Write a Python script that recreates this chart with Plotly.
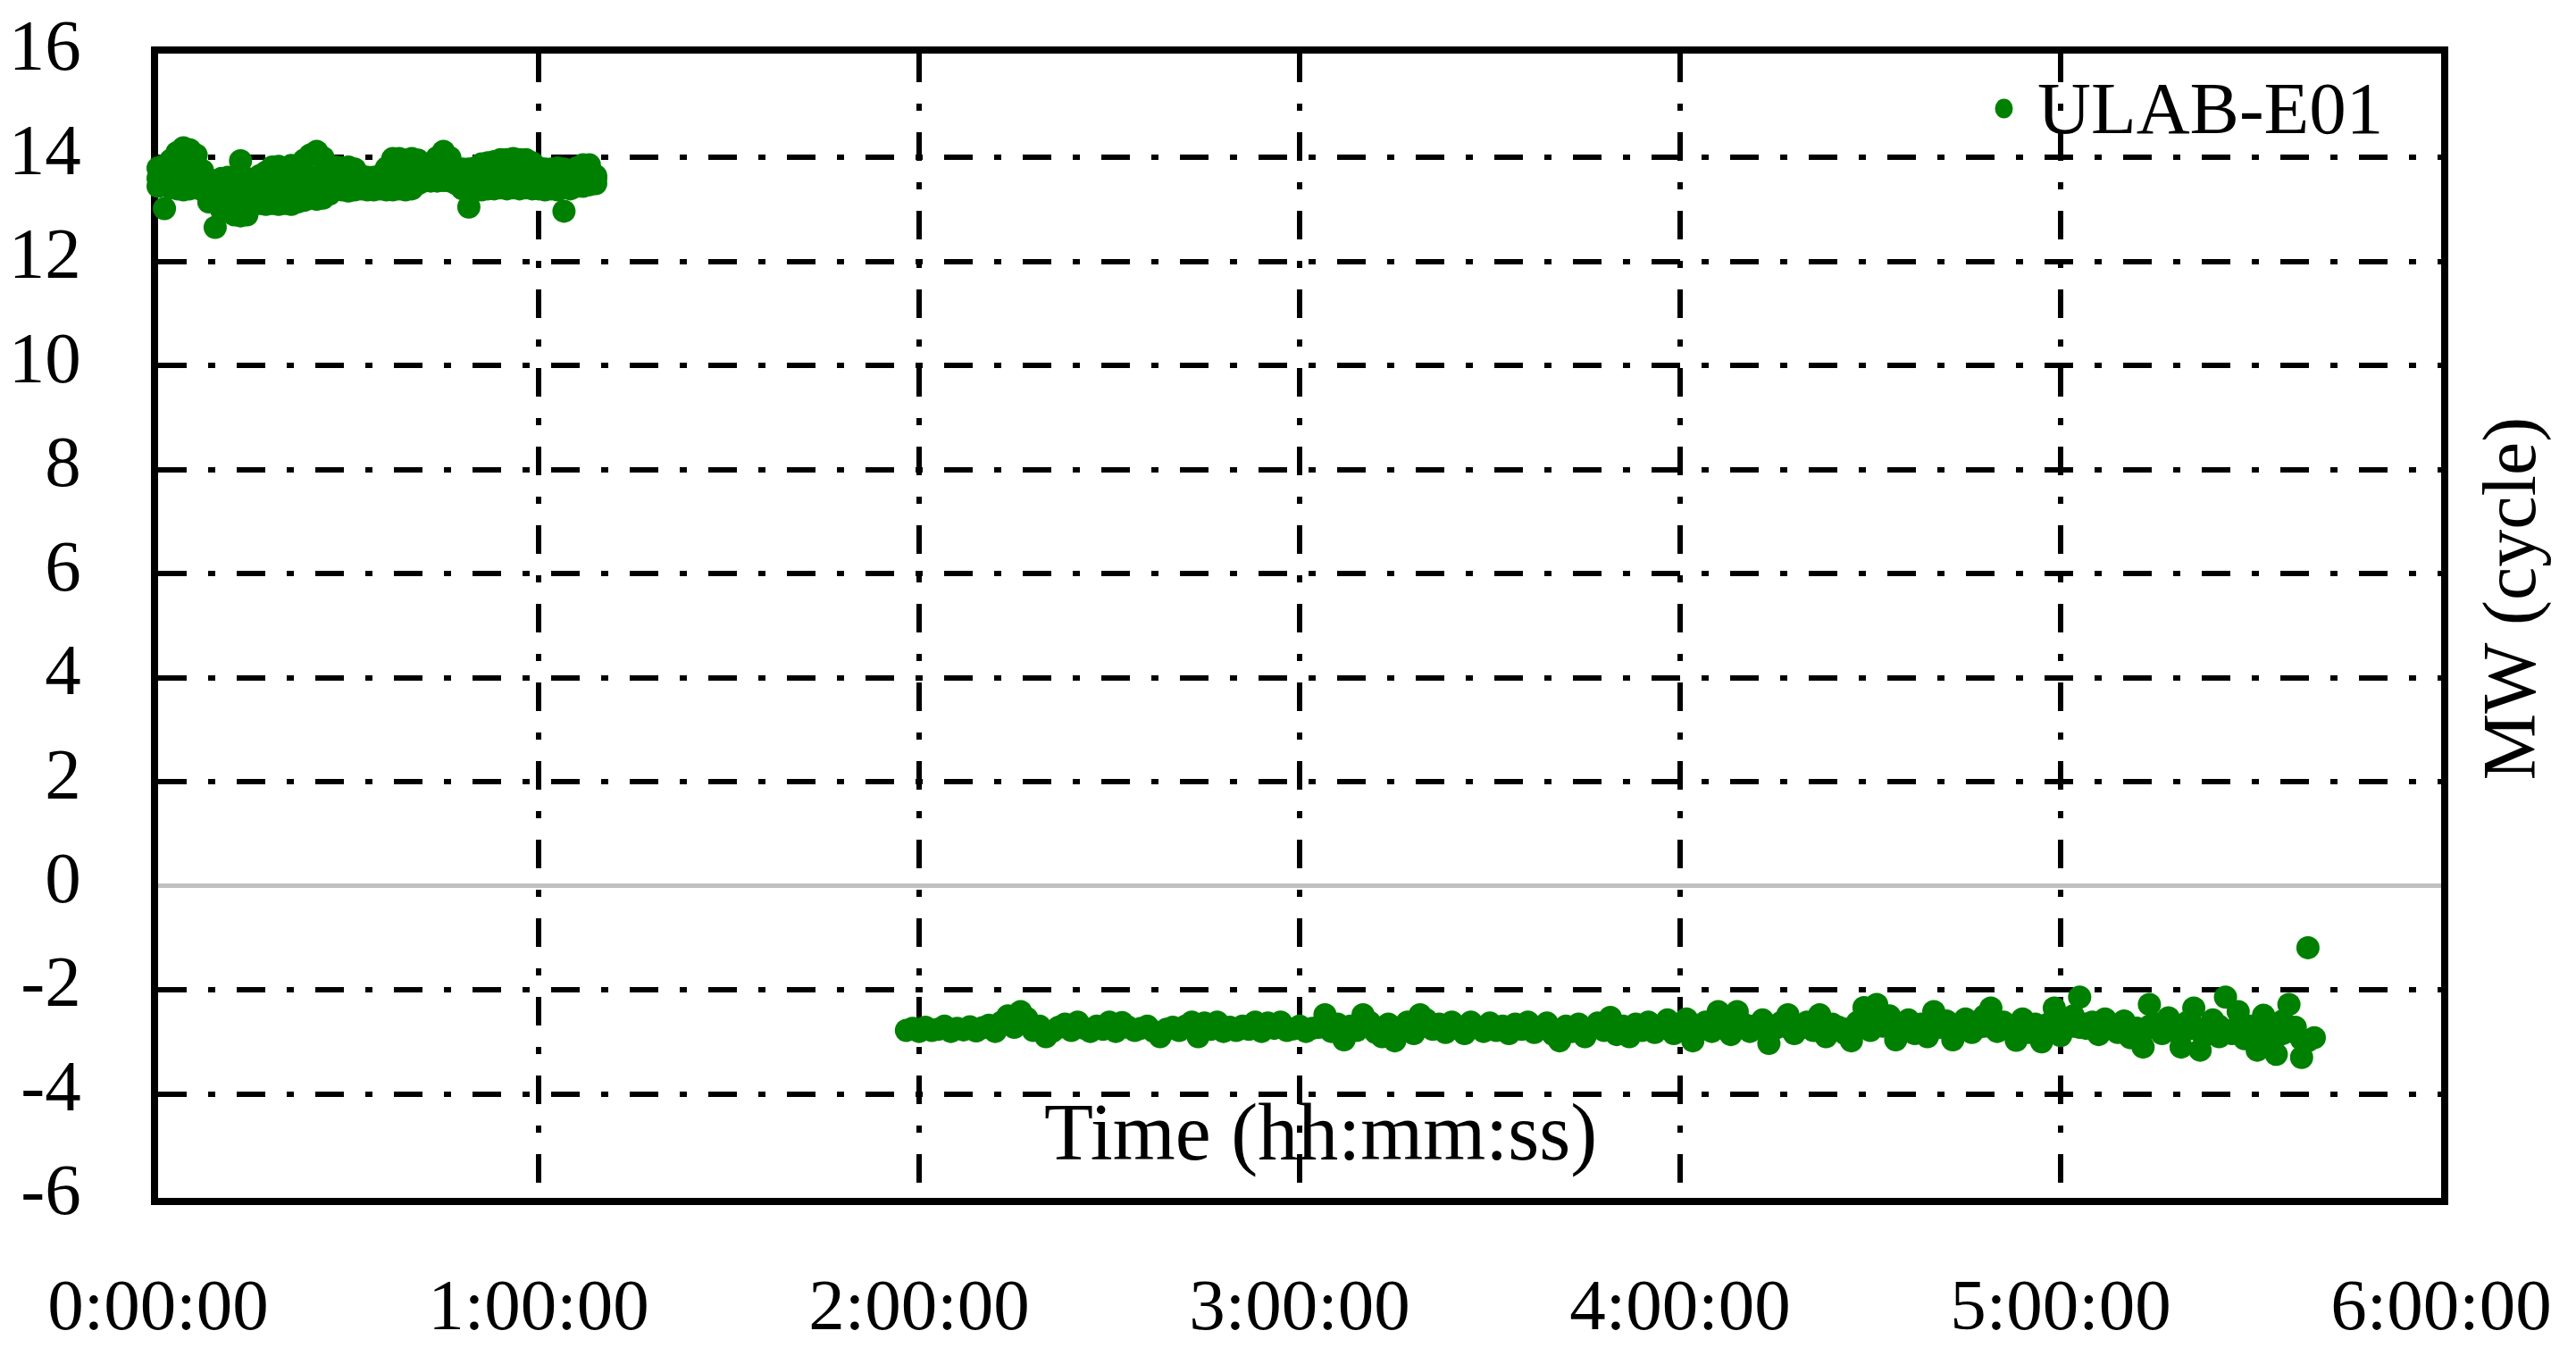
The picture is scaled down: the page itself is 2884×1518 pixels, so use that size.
import plotly.graph_objects as go

# MW (cycle) of ULAB-E01, time in minutes from start
# first block (0:00 - 1:10): the band is thick, so read top / middle / bottom of it
T1_MIN = [0, 1, 2, 3, 4, 5, 6, 7, 8, 9, 10, 11, 12, 13, 14, 15, 16, 17, 18, 19,
          20, 21, 22, 23, 24, 25, 26, 27, 28, 29, 30, 31, 32, 33, 34, 35, 36, 37, 38, 39,
          40, 41, 42, 43, 44, 45, 46, 47, 48, 49, 50, 51, 52, 53, 54, 55, 56, 57, 58, 59,
          60, 61, 62, 63, 64, 65, 66, 67, 68, 69]
MW1_TOP = [13.80, 13.85, 13.95, 14.10, 14.19, 14.15, 14.05, 13.75, 13.58, 13.55,
           13.60, 13.62, 13.60, 13.94, 13.60, 13.58, 13.65, 13.72, 13.82, 13.83,
           13.80, 13.85, 13.83, 13.95, 14.05, 14.12, 14.00, 13.85, 13.82, 13.80,
           13.82, 13.78, 13.65, 13.62, 13.62, 13.65, 13.80, 13.98, 13.98, 13.95,
           13.98, 13.95, 13.85, 13.88, 14.00, 14.12, 14.00, 13.80, 13.78, 13.78,
           13.80, 13.88, 13.90, 13.92, 13.96, 13.96, 13.98, 13.96, 13.96, 13.90,
           13.80, 13.78, 13.78, 13.80, 13.78, 13.72, 13.80, 13.86, 13.86, 13.65]
MW1_MID = [13.60, 13.55, 13.65, 13.75, 13.85, 13.80, 13.70, 13.55, 13.30, 13.25,
           13.30, 13.35, 13.25, 13.40, 13.30, 13.35, 13.40, 13.40, 13.50, 13.45,
           13.50, 13.48, 13.52, 13.55, 13.60, 13.62, 13.58, 13.55, 13.55, 13.58,
           13.55, 13.55, 13.52, 13.50, 13.48, 13.52, 13.58, 13.65, 13.68, 13.65,
           13.68, 13.70, 13.70, 13.72, 13.75, 13.78, 13.75, 13.65, 13.60, 13.55,
           13.58, 13.62, 13.65, 13.65, 13.70, 13.70, 13.72, 13.70, 13.68, 13.65,
           13.62, 13.60, 13.62, 13.60, 13.55, 13.58, 13.62, 13.65, 13.65, 13.60]
MW1_LOW = [13.45, 13.02, 13.42, 13.40, 13.38, 13.40, 13.42, 13.38, 13.15, 12.66,
           13.00, 13.05, 12.90, 12.88, 12.90, 13.10, 13.12, 13.10, 13.12, 13.10,
           13.12, 13.10, 13.15, 13.18, 13.22, 13.20, 13.22, 13.30, 13.38, 13.38,
           13.36, 13.38, 13.40, 13.38, 13.38, 13.40, 13.38, 13.38, 13.40, 13.38,
           13.40, 13.50, 13.55, 13.55, 13.55, 13.56, 13.55, 13.50, 13.40, 13.05,
           13.38, 13.38, 13.40, 13.40, 13.42, 13.40, 13.42, 13.40, 13.42, 13.40,
           13.40, 13.38, 13.40, 13.38, 12.97, 13.40, 13.45, 13.45, 13.48, 13.50]

# second block (1:58 - 5:40)
T2_MIN = [118, 119, 120, 121, 122, 123, 124, 125, 126, 127,
          128, 129, 130, 131, 132, 133, 134, 135, 136, 137,
          138, 139, 140, 141, 142, 143, 144, 145, 146, 147,
          148, 149, 150, 151, 152, 153, 154, 155, 156, 157,
          158, 159, 160, 161, 162, 163, 164, 165, 166, 167,
          168, 169, 170, 171, 172, 173, 174, 175, 176, 177,
          178, 179, 180, 181, 182, 183, 184, 185, 186, 187,
          188, 189, 190, 191, 192, 193, 194, 195, 196, 197,
          198, 199, 200, 201, 202, 203, 204, 205, 206, 207,
          208, 209, 210, 211, 212, 213, 214, 215, 216, 217,
          218, 219, 220, 221, 222, 223, 224, 225, 226, 227,
          228, 229, 230, 231, 232, 233, 234, 235, 236, 237,
          238, 239, 240, 241, 242, 243, 244, 245, 246, 247,
          248, 249, 250, 251, 252, 253, 254, 255, 256, 257,
          258, 259, 260, 261, 262, 263, 264, 265, 266, 267,
          268, 269, 270, 271, 272, 273, 274, 275, 276, 277,
          278, 279, 280, 281, 282, 283, 284, 285, 286, 287,
          288, 289, 290, 291, 292, 293, 294, 295, 296, 297,
          298, 299, 300, 301, 302, 303, 304, 305, 306, 307,
          308, 309, 310, 311, 312, 313, 314, 315, 316, 317,
          318, 319, 320, 321, 322, 323, 324, 325, 326, 327,
          328, 329, 330, 331, 332, 333, 334, 335, 336, 337,
          338, 339, 340]
MW2 = [-2.78, -2.74, -2.80, -2.72, -2.78, -2.76, -2.70, -2.80, -2.74, -2.77,
       -2.71, -2.79, -2.73, -2.68, -2.80, -2.62, -2.50, -2.72, -2.42, -2.55,
       -2.78, -2.70, -2.90, -2.80, -2.72, -2.66, -2.78, -2.62, -2.74, -2.80,
       -2.70, -2.76, -2.62, -2.80, -2.63, -2.72, -2.78, -2.74, -2.70, -2.80,
       -2.90, -2.76, -2.72, -2.78, -2.70, -2.62, -2.90, -2.64, -2.76, -2.62,
       -2.80, -2.72, -2.78, -2.70, -2.76, -2.62, -2.80, -2.64, -2.74, -2.62,
       -2.78, -2.75, -2.70, -2.80, -2.74, -2.72, -2.48, -2.80, -2.66, -2.96,
       -2.70, -2.78, -2.48, -2.62, -2.82, -2.90, -2.66, -2.98, -2.74, -2.62,
       -2.84, -2.48, -2.58, -2.76, -2.66, -2.82, -2.62, -2.74, -2.84, -2.62,
       -2.72, -2.80, -2.64, -2.78, -2.70, -2.84, -2.66, -2.76, -2.62, -2.82,
       -2.72, -2.64, -2.86, -2.98, -2.70, -2.80, -2.66, -2.90, -2.74, -2.64,
       -2.78, -2.53, -2.86, -2.70, -2.90, -2.66, -2.78, -2.62, -2.82, -2.72,
       -2.58, -2.84, -2.70, -2.56, -2.98, -2.74, -2.62, -2.80, -2.42, -2.70,
       -2.86, -2.42, -2.66, -2.80, -2.72, -2.58, -3.03, -2.74, -2.62, -2.48,
       -2.84, -2.70, -2.62, -2.78, -2.48, -2.90, -2.66, -2.74, -2.84, -2.98,
       -2.62, -2.34, -2.78, -2.28, -2.66, -2.50, -2.96, -2.74, -2.58, -2.84,
       -2.66, -2.90, -2.42, -2.72, -2.60, -2.96, -2.70, -2.56, -2.82, -2.64,
       -2.50, -2.35, -2.80, -2.62, -2.74, -2.97, -2.56, -2.82, -2.66, -3.00,
       -2.70, -2.35, -2.88, -2.60, -2.50, -2.14, -2.74, -2.62, -2.86, -2.56,
       -2.70, -2.82, -2.60, -2.92, -2.74, -3.10, -2.28, -2.66, -2.84, -2.54,
       -2.78, -3.10, -2.62, -2.35, -3.16, -2.76, -2.58, -2.90, -2.14, -2.82,
       -2.42, -2.94, -2.70, -3.16, -2.49, -2.88, -3.24, -2.60, -2.28, -2.72,
       -3.30, -1.19, -2.92]

# middle of the band in the noisier last part (4:10 - 5:40)
T2_CORE_MIN = [250, 251, 252, 253, 254, 255, 256, 257, 258, 259,
               260, 261, 262, 263, 264, 265, 266, 267, 268, 269,
               270, 271, 272, 273, 274, 275, 276, 277, 278, 279,
               280, 281, 282, 283, 284, 285, 286, 287, 288, 289,
               290, 291, 292, 293, 294, 295, 296, 297, 298, 299,
               300, 301, 302, 303, 304, 305, 306, 307, 308, 309,
               310, 311, 312, 313, 314, 315, 316, 317, 318, 319,
               320, 321, 322, 323, 324, 325, 326, 327, 328, 329,
               330, 331, 332, 333, 334, 335, 336, 337, 338, 339]
MW2_CORE = [-2.72, -2.70, -2.74, -2.70, -2.76, -2.72, -2.68, -2.72, -2.74, -2.70,
            -2.72, -2.68, -2.70, -2.74, -2.70, -2.72, -2.76, -2.74, -2.70, -2.66,
            -2.68, -2.64, -2.70, -2.68, -2.74, -2.70, -2.72, -2.68, -2.70, -2.74,
            -2.70, -2.66, -2.72, -2.70, -2.76, -2.70, -2.68, -2.72, -2.70, -2.66,
            -2.68, -2.70, -2.74, -2.70, -2.76, -2.74, -2.78, -2.72, -2.66, -2.62,
            -2.66, -2.62, -2.70, -2.72, -2.66, -2.70, -2.74, -2.70, -2.72, -2.76,
            -2.72, -2.78, -2.74, -2.80, -2.70, -2.66, -2.72, -2.74, -2.78, -2.82,
            -2.76, -2.70, -2.80, -2.86, -2.74, -2.70, -2.78, -2.84, -2.70, -2.76,
            -2.82, -2.88, -2.74, -2.80, -2.90, -2.84, -2.76, -2.82, -2.95, -2.98]

X_TICKS = [0, 60, 120, 180, 240, 300, 360]
X_TICK_TEXT = ["0:00:00", "1:00:00", "2:00:00", "3:00:00", "4:00:00", "5:00:00", "6:00:00"]
Y_TICKS = [-6, -4, -2, 0, 2, 4, 6, 8, 10, 12, 14, 16]
Y_TICK_TEXT = ["-6", "-4", "-2", "0", "2", "4", "6", "8", "10", "12", "14", "16"]

FONT = "Liberation Serif"
GREEN = "#008000"
GRID_DASH = "32px,24px,8px,24px"
SERIES = "ULAB-E01"

fig = go.Figure()
fig.add_trace(go.Scatter(
    x=T1_MIN * 3 + T2_MIN + T2_CORE_MIN,
    y=MW1_TOP + MW1_MID + MW1_LOW + MW2 + MW2_CORE,
    mode="markers", name=SERIES, showlegend=False,
    marker=dict(color=GREEN, size=26, line=dict(width=0)),
    cliponaxis=False,
))

axis_common = dict(
    showline=True, mirror=True, linecolor="black", linewidth=8,
    showgrid=True, gridcolor="black", gridwidth=6, griddash=GRID_DASH,
    ticks="", tickfont=dict(family=FONT, size=81, color="black"),
    layer="below traces", automargin=False,
)

fig.update_xaxes(range=[0, 360], tickvals=X_TICKS, ticktext=X_TICK_TEXT,
                 zeroline=False, ticklabelstandoff=42, **axis_common)
fig.update_yaxes(range=[-6, 16], tickvals=Y_TICKS, ticktext=Y_TICK_TEXT,
                 zeroline=True, zerolinecolor="#c0c0c0", zerolinewidth=5,
                 ticklabelstandoff=62, ticklabelshift=-10, **axis_common)

# axis titles sit inside / beside the plot like in the original
fig.add_annotation(text="Time (hh:mm:ss)", xref="paper", yref="y",
                   x=0.509, y=-4.75, showarrow=False, xanchor="center", yanchor="middle",
                   font=dict(family=FONT, size=90, color="black"))
fig.add_annotation(text="MW (cycle)", xref="paper", yref="paper",
                   x=1.030, y=0.524, showarrow=False, textangle=-90,
                   xanchor="center", yanchor="middle",
                   font=dict(family=FONT, size=84, color="black"))

# legend (drawn by hand so the swatch can be as large as in the original)
fig.add_shape(type="circle", xref="paper", yref="paper",
              xsizemode="pixel", ysizemode="pixel",
              xanchor=0.8085, yanchor=0.952, x0=-10, x1=10, y0=-11, y1=11,
              fillcolor=GREEN, line=dict(width=0))
fig.add_annotation(text=SERIES, xref="paper", yref="paper",
                   x=0.8225, y=0.952, showarrow=False, xanchor="left", yanchor="middle",
                   font=dict(family=FONT, size=83, color="black"))

fig.update_layout(
    width=2884, height=1518,
    margin=dict(l=177, r=151, t=60, b=177),
    paper_bgcolor="white", plot_bgcolor="white",
    showlegend=False,
)

# the page's default body margin would push the figure 8px right and down
fig.write_html("out.html", config={"displayModeBar": False},
               post_script="document.body.style.margin = '0px';")
